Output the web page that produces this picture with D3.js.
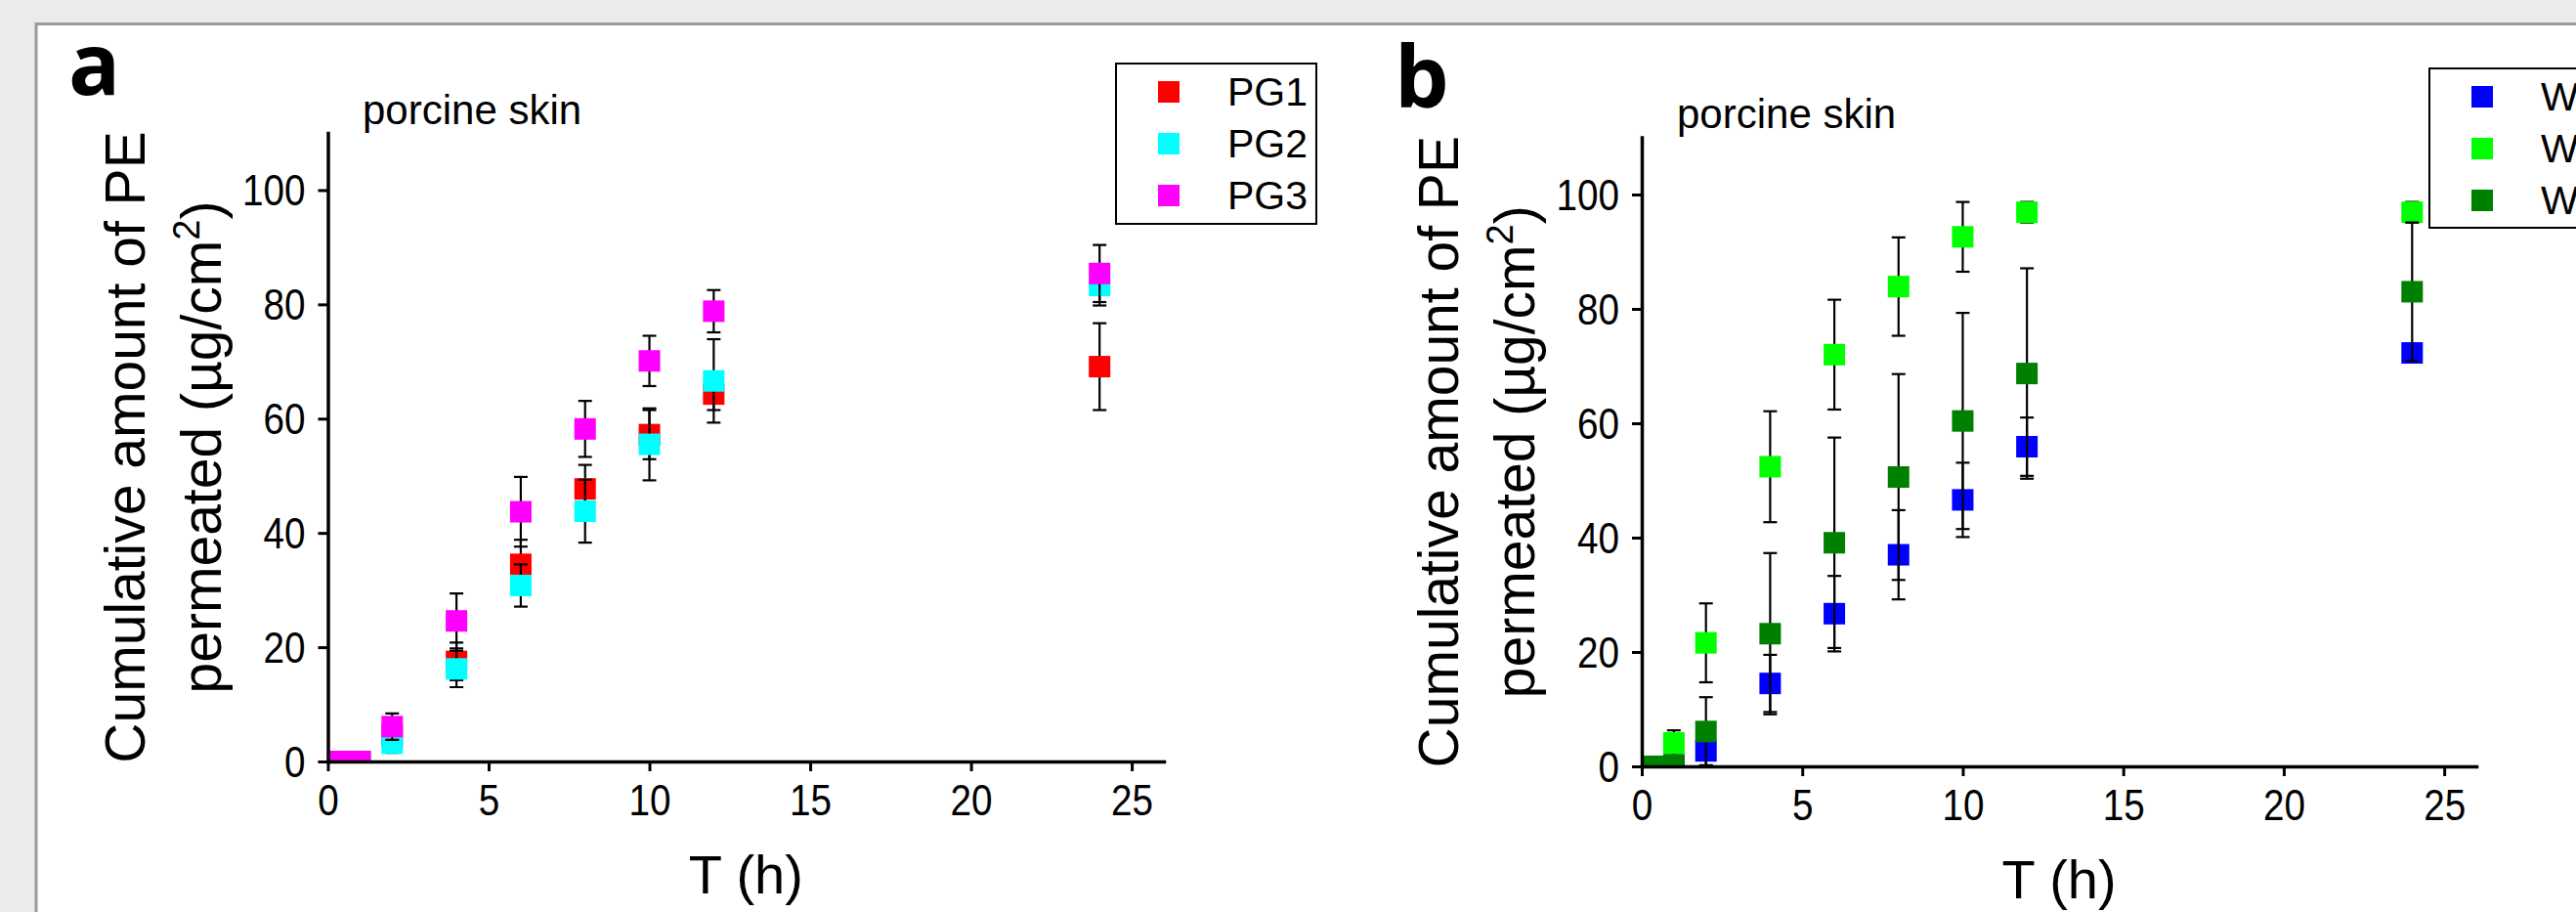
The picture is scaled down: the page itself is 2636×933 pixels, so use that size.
<!DOCTYPE html>
<html><head><meta charset="utf-8">
<script src="https://cdn.jsdelivr.net/npm/d3@7/dist/d3.min.js"></script>
<style>
html,body{margin:0;padding:0;background:#ebebeb;overflow:hidden;}
svg{display:block;font-family:"Liberation Sans",Arial,sans-serif;}
</style></head><body>
<svg id="chart" width="2636" height="933"></svg>
<script>
// ---- data ----
const times = [0, 0.5, 1, 2, 4, 6, 8, 10, 12, 24];
const xTicks = [0, 5, 10, 15, 20, 25];
const yTicks = [0, 20, 40, 60, 80, 100];

const pgNames = ["PG1", "PG2", "PG3"];
const pgColors = ["#ff0000", "#00ffff", "#ff00ff"];
const pg1 = [0, 0, 0, 4.5, 17.5, 34.5, 47.7, 57.2, 64.3, 69.1];
const pg1Err = [0, 0, 0, 1.5, 3.3, 4.3, 4.2, 4.3, 2.8, 7.6];
const pg2 = [0, 0, 0, 3.2, 16.2, 30.8, 43.8, 55.5, 66.6, 83.3];
const pg2Err = [0, 0, 0, 1.7, 3.2, 3.7, 5.5, 6.3, 7.3, 3.5];
const pg3 = [0, 0, 0, 6.1, 24.6, 43.7, 58.2, 70.1, 78.8, 85.4];
const pg3Err = [0, 0, 0, 2.3, 4.8, 6.1, 4.9, 4.4, 3.7, 5.0];

const wNames = ["W1", "W2", "W3"];
const wColors = ["#0000ff", "#00ff00", "#008000"];
const w1 = [0, 0, 0, 2.7, 14.5, 26.7, 37.0, 46.6, 55.9, 72.3];
const w1Err = [0, 0, 0.5, 2.5, 5.0, 6.6, 7.8, 6.5, 5.1, 1.2];
const w2 = [0, 0, 4.1, 21.6, 52.4, 72.0, 83.9, 92.6, 96.9, 96.9];
const w2Err = [0, 0, 2.2, 6.9, 9.7, 9.6, 8.6, 6.1, 1.8, 1.8];
const w3 = [0, 0, 0.3, 6.1, 23.2, 39.1, 50.6, 60.4, 68.7, 83.0];
const w3Err = [0, 0, 1.0, 6.0, 14.1, 18.4, 18.0, 18.9, 18.4, 12.1];

const subtitle = "porcine skin";
const xTitle = "T (h)";
const yTitle1 = "Cumulative amount of PE";
const yTitle2a = "permeated (µg/cm";
const yTitle2b = "2";
const yTitle2c = ")";

// ---- layout ----
const svg = d3.select("#chart");
svg.append("rect").attr("x", 37).attr("y", 24.5).attr("width", 2700).attr("height", 1000)
  .attr("fill", "#ffffff").attr("stroke", "#9a9a9a").attr("stroke-width", 3);

const panels = [
  { id: "a", label: "a", labelX: 70, labelY: 97,
    x0: 335.5, x1: 1191, y0: 779, y1: 136, subX: 371, subY: 127,
    names: pgNames, colors: pgColors,
    values: [pg1, pg2, pg3], errs: [pg1Err, pg2Err, pg3Err],
    legend: { x: 1142, y: 65, w: 205, h: 164 } },
  { id: "b", label: "b", labelX: 1427, labelY: 110,
    x0: 1680, x1: 2534, y0: 784, y1: 140.5, subX: 1716, subY: 131,
    names: wNames, colors: wColors,
    values: [w1, w2, w3], errs: [w1Err, w2Err, w3Err],
    legend: { x: 2486, y: 70, w: 205, h: 163 } }
];

const defs = svg.append("defs");
const MS = 22; // marker size
const CAP = 7;

panels.forEach(p => {
  const x = d3.scaleLinear().domain([0, 26]).range([p.x0, p.x1]);
  const y = d3.scaleLinear().domain([0, 110]).range([p.y0, p.y1]);
  const g = svg.append("g");

  // panel letter
  g.append("text").attr("x", p.labelX).attr("y", p.labelY)
    .attr("font-family", "'Open Sans', 'Liberation Sans', sans-serif")
    .attr("font-weight", 700).attr("font-size", 88).attr("fill", "#000").text(p.label);

  // subtitle
  g.append("text").attr("x", p.subX).attr("y", p.subY)
    .attr("font-size", 42).attr("fill", "#000").text(subtitle);

  // clip
  defs.append("clipPath").attr("id", "clip-" + p.id).append("rect")
    .attr("x", p.x0).attr("y", p.y1).attr("width", p.x1 - p.x0).attr("height", p.y0 - p.y1);
  const plot = g.append("g").attr("clip-path", "url(#clip-" + p.id + ")");

  p.values.forEach((vals, si) => {
    const errs = p.errs[si];
    const pts = times.map((t, i) => ({ t: t, v: vals[i], e: errs[i] }));
    const sg = plot.append("g");
    const eb = sg.append("g").attr("stroke", "#000").attr("stroke-width", 2.2).attr("fill", "none");
    pts.filter(d => d.e > 0).forEach(d => {
      const cx = x(d.t), yt = y(d.v + d.e), yb = y(d.v - d.e);
      eb.append("line").attr("x1", cx).attr("x2", cx).attr("y1", yt).attr("y2", yb);
      eb.append("line").attr("x1", cx - CAP).attr("x2", cx + CAP).attr("y1", yt).attr("y2", yt);
      eb.append("line").attr("x1", cx - CAP).attr("x2", cx + CAP).attr("y1", yb).attr("y2", yb);
    });
    sg.append("g").selectAll("rect").data(pts).join("rect")
      .attr("x", d => x(d.t) - MS / 2).attr("y", d => y(d.v) - MS / 2)
      .attr("width", MS).attr("height", MS).attr("fill", p.colors[si]);
  });

  // axes
  const xAxis = g.append("g").attr("transform", `translate(0,${p.y0})`)
    .call(d3.axisBottom(x).tickValues(xTicks).tickSize(10).tickSizeOuter(0).tickPadding(13));
  const yAxis = g.append("g").attr("transform", `translate(${p.x0},0)`)
    .call(d3.axisLeft(y).tickValues(yTicks).tickSize(10).tickSizeOuter(0));
  [xAxis, yAxis].forEach(a => {
    a.select(".domain").attr("stroke", "#000").attr("stroke-width", 3.5).attr("stroke-linecap", "square");
    a.selectAll(".tick line").attr("stroke", "#000").attr("stroke-width", 3);
    a.selectAll(".tick text").attr("font-size", 45).attr("fill", "#000")
      .attr("font-family", "'Liberation Sans', Arial, sans-serif");
  });
  xAxis.selectAll(".tick text").attr("transform", "scale(0.86,1)");
  yAxis.selectAll(".tick text").attr("x", 0).attr("dy", "0.34em")
    .attr("transform", "translate(-23,0) scale(0.86,1)");

  // x title
  g.append("text").attr("x", (p.x0 + p.x1) / 2).attr("y", p.y0 + 135)
    .attr("text-anchor", "middle").attr("font-size", 56).attr("fill", "#000").text(xTitle);

  // y title
  const cy = (p.y0 + p.y1) / 2;
  g.append("text").attr("transform", `translate(${p.x0 - 188},${cy}) rotate(-90)`)
    .attr("text-anchor", "middle").attr("font-size", 57).attr("fill", "#000").text(yTitle1);
  const t2 = g.append("text").attr("transform", `translate(${p.x0 - 110},${cy}) rotate(-90)`)
    .attr("text-anchor", "middle").attr("font-size", 57).attr("fill", "#000");
  t2.append("tspan").text(yTitle2a);
  t2.append("tspan").attr("font-size", 38).attr("dy", -22).text(yTitle2b);
  t2.append("tspan").attr("dy", 22).text(yTitle2c);

  // legend
  const L = p.legend;
  const lg = g.append("g");
  lg.append("rect").attr("x", L.x).attr("y", L.y).attr("width", L.w).attr("height", L.h)
    .attr("fill", "#fff").attr("stroke", "#000").attr("stroke-width", 2);
  const rowOff = [29, 82, 135];
  p.names.forEach((n, i) => {
    lg.append("rect").attr("x", L.x + 43).attr("y", L.y + rowOff[i] - 11)
      .attr("width", MS).attr("height", MS).attr("fill", p.colors[i]);
    lg.append("text").attr("x", L.x + 114).attr("y", L.y + rowOff[i]).attr("dy", "0.35em")
      .attr("font-size", 41).attr("fill", "#000").text(n);
  });
});
</script>
</body></html>
